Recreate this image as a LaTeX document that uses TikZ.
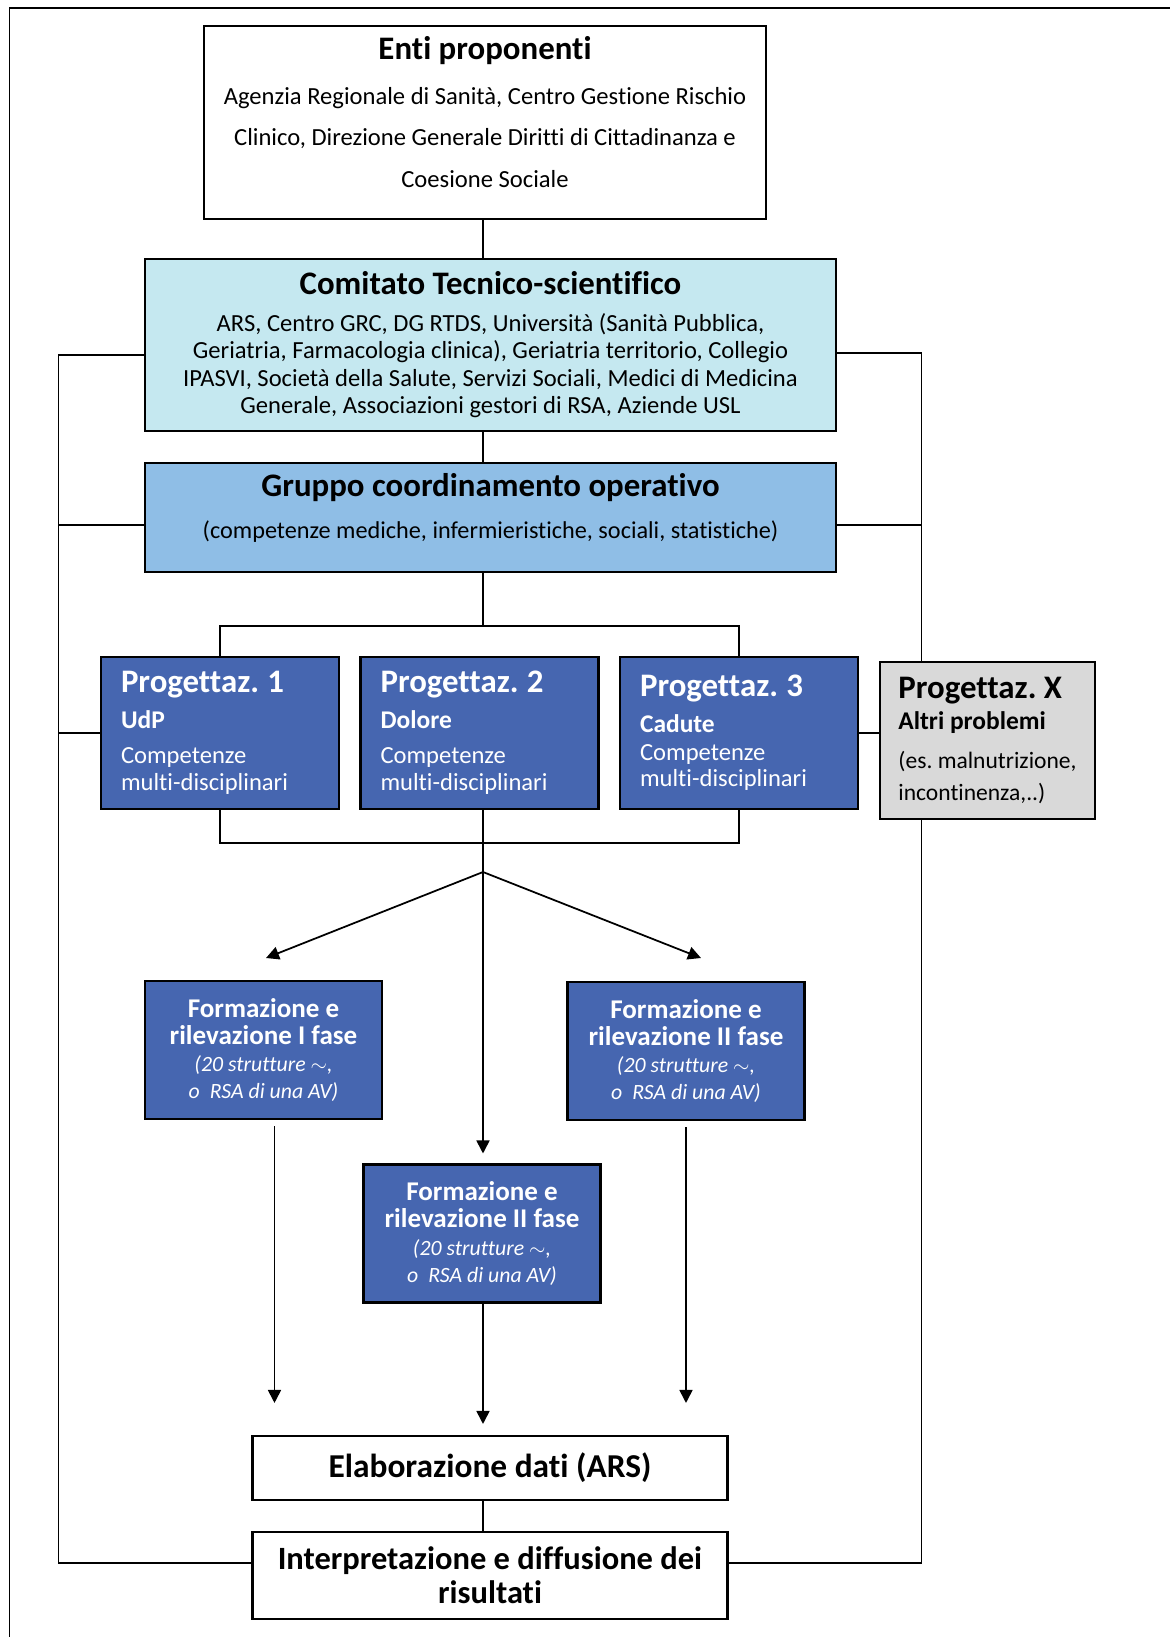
\documentclass[tikz,border=0pt]{standalone}
\usepackage{fontspec}
\setmainfont{Carlito}[Ligatures=NoCommon]
\usetikzlibrary{arrows.meta,positioning}

\definecolor{ctsfill}{RGB}{197,232,240}
\definecolor{gcofill}{RGB}{143,190,230}
\definecolor{progfill}{RGB}{70,102,176}
\definecolor{altfill}{RGB}{217,217,217}

\newcommand{\bigtitle}{\fontsize{18.7}{22}\selectfont\bfseries}
\newcommand{\midtitle}{\fontsize{14.5}{17}\selectfont\bfseries}
\newcommand{\smallit}{\fontsize{12.4}{15}\selectfont\itshape}

\begin{document}
\begin{tikzpicture}[x=0.02cm,y=-0.02cm,
  every node/.style={inner sep=0pt},
  box/.style={draw,line width=1.2pt,align=center},
  prog/.style={box,fill=progfill,text=white,align=left,inner xsep=0.4cm,text width=3.96cm,minimum height=3.03cm,font=\fontsize{14}{15.3}\selectfont},
  form/.style={box,fill=progfill,text=white,minimum width=4.74cm,minimum height=2.76cm,font=\fontsize{15.4}{15.5}\selectfont},
  link/.style={line width=1pt},
  arr/.style={link,-{Triangle[length=0.26cm,width=0.26cm]}}]
\useasboundingbox (0,0) rectangle (1170,1637);
\draw[line width=1pt] (9.5,1637) -- (9.5,8) -- (1170,8);

\coordinate (spine) at (483,0);
\coordinate (lft) at (58.5,0);
\coordinate (rgt) at (921.5,0);
\coordinate (top) at (483,626);
\coordinate (bot) at (483,843);
\coordinate (split) at (483,872);
\coordinate (tipl) at (266,958);
\coordinate (tipr) at (701,958);

\node[box,minimum width=11.25cm,minimum height=3.86cm,text depth=0.43cm,font=\fontsize{14}{23.6}\selectfont] (enti) at (485,122.5) {{\bigtitle Enti proponenti}\\[2pt]
  Agenzia Regionale di Sanità, Centro Gestione Rischio\\
  Clinico, Direzione Generale Diritti di Cittadinanza e\\
  Coesione Sociale};
\node[box,fill=ctsfill,minimum width=13.82cm,minimum height=3.44cm,font=\fontsize{14}{15.7}\selectfont] (cts) at (490.5,345) {{\bigtitle Comitato Tecnico-scientifico}\\[5pt]
  ARS, Centro GRC, DG RTDS, Università (Sanità Pubblica,\\
  Geriatria, Farmacologia clinica), Geriatria territorio, Collegio\\
  IPASVI, Società della Salute, Servizi Sociali, Medici di Medicina\\
  Generale, Associazioni gestori di RSA, Aziende USL};
\node[box,fill=gcofill,minimum width=13.82cm,minimum height=2.18cm,text depth=0.45cm,font=\fontsize{13.8}{15.7}\selectfont] (gco) at (490.5,517.5) {{\bigtitle Gruppo coordinamento operativo}\\[8pt]
  (competenze mediche, infermieristiche, sociali, statistiche)};

\node[prog] (p1) at (220,733) {{\bigtitle Progettaz.\ 1}\\[5pt]{\midtitle UdP}\\[4.7pt]Competenze\\multi-disciplinari};
\node[prog] (p2) at (479.5,733) {{\bigtitle Progettaz.\ 2}\\[5pt]{\midtitle Dolore}\\[4.7pt]Competenze\\multi-disciplinari};
\node[prog] (p3) at (739,733) {{\bigtitle Progettaz.\ 3}\\[5pt]{\midtitle Cadute}\\[0.5pt]Competenze\\multi-disciplinari};
\node[box,fill=altfill,align=left,minimum width=4.3cm,minimum height=3.14cm,font=\fontsize{13.4}{15.3}\selectfont] (px) at (987.5,740.5) {{\bigtitle Progettaz.\ X}\\[2.5pt]{\midtitle Altri problemi}\\[7pt](es.\ malnutrizione,\\[3pt]incontinenza,..)};

\node[form] (fl) at (263.5,1050) {\textbf{Formazione e}\\\textbf{rilevazione I fase}\\{\smallit (20 strutture $\sim$,}\\{\smallit o\ \ RSA di una AV)}};
\node[form] (fr) at (686,1051) {\textbf{Formazione e}\\\textbf{rilevazione II fase}\\{\smallit (20 strutture $\sim$,}\\{\smallit o\ \ RSA di una AV)}};
\node[form] (fm) at (482,1233.5) {\textbf{Formazione e}\\\textbf{rilevazione II fase}\\{\smallit (20 strutture $\sim$,}\\{\smallit o\ \ RSA di una AV)}};

\node[box,minimum width=9.5cm,minimum height=1.28cm,font=\fontsize{19}{20}\selectfont\bfseries] (elab) at (490,1468) {Elaborazione dati (ARS)};
\node[box,minimum width=9.5cm,minimum height=1.74cm,font=\fontsize{18.5}{19.5}\selectfont\bfseries] (irs) at (490,1575.5) {Interpretazione e diffusione dei\\risultati};

% spine
\draw[link] (enti.south -| spine) -- (cts.north -| spine);
\draw[link] (cts.south -| spine) -- (gco.north -| spine);
\draw[link] (gco.south -| spine) -- (top);
\draw[link] (p1.north) |- (top) -| (p3.north);
\draw[link] (p1.south) |- (bot) -| (p3.south);
\draw[link] (p2.south -| spine) -- (bot);
\draw[arr,shorten >=0.2cm] (bot) -- (fm.north -| spine);
\draw[arr] (split) -- (tipl);
\draw[arr] (split) -- (tipr);
\draw[arr,shorten <=0.12cm,shorten >=0.64cm] ([xshift=0.22cm]fl.south) -- ([xshift=0.22cm]fl.south |- elab.north);
\draw[arr,shorten <=0.12cm,shorten >=0.64cm] (fr.south) -- (fr.south |- elab.north);
\draw[arr,shorten >=0.22cm] (fm.south -| spine) -- (elab.north -| spine);
\draw[link] (elab.south -| spine) -- (irs.north -| spine);

% feedback loop
\draw[link] ([yshift=-0.2cm]cts.west) -- ([yshift=-0.2cm]cts.west -| lft) -- ([yshift=0.25cm]irs.west -| lft) -- ([yshift=0.25cm]irs.west);
\draw[link] ([yshift=-0.15cm]gco.west) -- ([yshift=-0.15cm]gco.west -| lft);
\draw[link] (p1.west) -- (p1.west -| lft);
\draw[link] ([yshift=-0.16cm]cts.east) -- ([yshift=-0.16cm]cts.east -| rgt) -- (px.north -| rgt);
\draw[link] (px.south -| rgt) -- ([yshift=0.25cm]irs.east -| rgt) -- ([yshift=0.25cm]irs.east);
\draw[link] ([yshift=-0.15cm]gco.east) -- ([yshift=-0.15cm]gco.east -| rgt);
\draw[link] (p3.east) -- (p3.east -| px.west);
\end{tikzpicture}
\end{document}
